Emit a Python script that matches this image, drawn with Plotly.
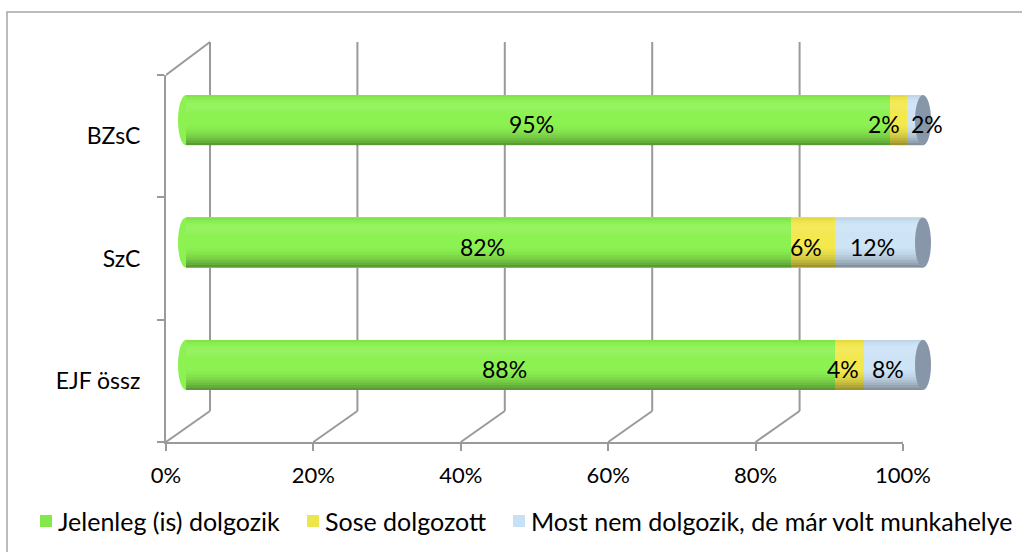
import plotly.graph_objects as go

# ---------------- data ----------------
categories = ["EJF össz", "SzC", "BZsC"]          # bottom -> top
series_names = ["Jelenleg (is) dolgozik", "Sose dolgozott", "Most nem dolgozik, de már volt munkahelye"]
jelenleg = [0.88, 0.82, 0.954]
sose = [0.04, 0.06, 0.024]
most_nem = [0.08, 0.12, 0.022]
labels_jelenleg = ["88%", "82%", "95%"]
labels_sose = ["4%", "6%", "2%"]
labels_most = ["8%", "12%", "2%"]
x_ticks = [0, 0.2, 0.4, 0.6, 0.8, 1.0]

# ---------------- style ----------------
FONT = "Lato"
GRID = "#9a9a9a"
colors = ["#8cf252", "#f3e84c", "#cde3f6"]
legend_colors = ["#84e84c", "#ede64a", "#c6e0f6"]
cap_color = "#8797a9"

W, H = 1022, 552
PL, PR, PT, PB = 166, 947, 42, 442       # plot-area pixel box
pw, ph = PR - PL, PB - PT
DX, DY = 44, 31                          # depth offset of back wall (px)
SCALE = 737                              # px per 100%

def px(p):
    return (p - PL) / pw

def py(q):
    return (PB - q) / ph

front_top = 75
bar_lift = 16
bar_left = 186
BW = 0.41
PAD = 0.025                               # room for the cylinder end caps
data_series = [jelenleg, sose, most_nem]
label_series = [labels_jelenleg, labels_sose, labels_most]
cat_range = [-0.5, len(categories) - 0.5]

fig = go.Figure()
for name, vals, col in zip(series_names, data_series, colors):
    fig.add_trace(go.Bar(
        y=categories, x=vals, name=name, orientation="h",
        marker=dict(color=col, line=dict(width=0)),
        width=BW, xaxis="x3", yaxis="y3", hoverinfo="skip",
        showlegend=False,
    ))

shapes = []
# chart border
shapes.append(dict(type="rect", xref="paper", yref="paper",
                   x0=px(7), x1=px(1040), y0=py(570), y1=py(12),
                   line=dict(color="#a6a6a6", width=1.5), fillcolor="rgba(0,0,0,0)"))
# back-wall gridlines and floor diagonals, anchored at the front axis ticks
for v in x_ticks:
    shapes.append(dict(type="line", xref="x", yref="paper", xsizemode="pixel",
                       xanchor=v, x0=DX, x1=DX, y0=py(PB - DY), y1=1,
                       line=dict(color=GRID, width=2), layer="below"))
    shapes.append(dict(type="line", xref="x", yref="paper", xsizemode="pixel", ysizemode="pixel",
                       xanchor=v, yanchor=0, x0=0, x1=DX, y0=0, y1=DY,
                       line=dict(color=GRID, width=2), layer="below"))
# left wall top diagonal
shapes.append(dict(type="line", xref="x", yref="paper", xsizemode="pixel", ysizemode="pixel",
                   xanchor=0, yanchor=py(front_top), x0=0, x1=DX, y0=0, y1=front_top - PT,
                   line=dict(color=GRID, width=2), layer="below"))

# cylinder caps and shading (bottom -> top alpha profile)
shade = [0.36, 0.28, 0.21, 0.15, 0.10, 0.06, 0.03, 0.01, 0.0, 0.0,
         0.0, 0.0, 0.0, -0.03, -0.07, -0.1, -0.08, -0.03, 0.02, 0.06]
half = BW / 2
n = len(shade)
for i, cat in enumerate(categories):
    total = sum(s[i] for s in data_series)
    shapes.append(dict(type="circle", xref="x3", yref="y3", xsizemode="pixel",
                       xanchor=0, x0=-8, x1=8, y0=i - half, y1=i + half,
                       fillcolor=colors[0], line=dict(width=0), layer="above"))
    for k, a in enumerate(shade):
        if a == 0:
            continue
        c = f"rgba(0,0,0,{a})" if a > 0 else f"rgba(255,255,255,{-a})"
        shapes.append(dict(type="rect", xref="x3", yref="y3", x0=0, x1=total,
                           y0=i - half + 2 * half * k / n, y1=i - half + 2 * half * (k + 1) / n,
                           fillcolor=c, line=dict(width=0), layer="above"))
    shapes.append(dict(type="circle", xref="x3", yref="y3", xsizemode="pixel",
                       xanchor=total, x0=-8, x1=8, y0=i - half, y1=i + half,
                       fillcolor=cap_color, line=dict(width=0), layer="above"))

# data labels
annotations = []
extra_shift = {(1, 2): -8, (2, 2): 18}
for s, (vals, labs) in enumerate(zip(data_series, label_series)):
    for i, cat in enumerate(categories):
        start = sum(data_series[k][i] for k in range(s))
        annotations.append(dict(x=start + vals[i] / 2, y=i, xref="x3", yref="y3",
                                text=labs[i], showarrow=False,
                                xshift=-6 + extra_shift.get((s, i), 0), yshift=-4,
                                font=dict(family=FONT, size=23, color="black")))

# legend drawn by hand (swatch + text) for exact placement
legend_x = [40, 307, 513]     # swatch left edges (px)
legend_y = 521
for name, lcol, lx in zip(series_names, legend_colors, legend_x):
    shapes.append(dict(type="rect", xref="paper", yref="paper",
                       x0=px(lx), x1=px(lx + 12), y0=py(legend_y + 6), y1=py(legend_y - 6),
                       fillcolor=lcol, line=dict(width=0)))
    annotations.append(dict(x=px(lx + 16), y=py(legend_y), xref="paper", yref="paper",
                            xanchor="left", yanchor="middle", text=name, showarrow=False,
                            font=dict(family=FONT, size=25, color="black")))

fig.update_layout(
    width=W, height=H,
    margin=dict(l=PL, r=W - PR, t=PT, b=H - PB, autoexpand=False),
    paper_bgcolor="white", plot_bgcolor="rgba(0,0,0,0)",
    barmode="stack", bargap=0, showlegend=False,
    font=dict(family=FONT, size=21, color="black"),
    shapes=shapes, annotations=annotations,
    xaxis=dict(domain=[0, SCALE / pw], range=[0, 1], tickvals=x_ticks, tickformat=".0%",
               showgrid=False, zeroline=False, showline=True, linecolor=GRID, linewidth=2,
               ticks="outside", ticklen=7, tickwidth=2, tickcolor=GRID,
               ticklabelstandoff=6, anchor="y", fixedrange=True,
               tickfont=dict(size=22)),
    yaxis=dict(domain=[0, py(front_top)], type="category", categoryorder="array",
               categoryarray=categories, range=cat_range, tickvals=categories,
               tickson="boundaries", ticks="outside", ticklen=7,
               tickwidth=2, tickcolor=GRID, showline=True, linecolor=GRID, linewidth=2,
               showgrid=False, zeroline=False, ticklabelstandoff=19, anchor="x",
               tickfont=dict(size=23)),
    xaxis3=dict(domain=[px(bar_left - PAD * SCALE), px(bar_left + (1 + PAD) * SCALE)],
                range=[-PAD, 1 + PAD], showgrid=False,
                showticklabels=False, zeroline=False, anchor="y3"),
    yaxis3=dict(domain=[bar_lift / ph, py(front_top) + bar_lift / ph], type="category",
                categoryorder="array", categoryarray=categories, range=cat_range,
                showgrid=False, showticklabels=False, zeroline=False, anchor="x3"),
)

fig.write_html("out.html", config={"displayModeBar": False},
               post_script="document.body.style.margin='0';")
